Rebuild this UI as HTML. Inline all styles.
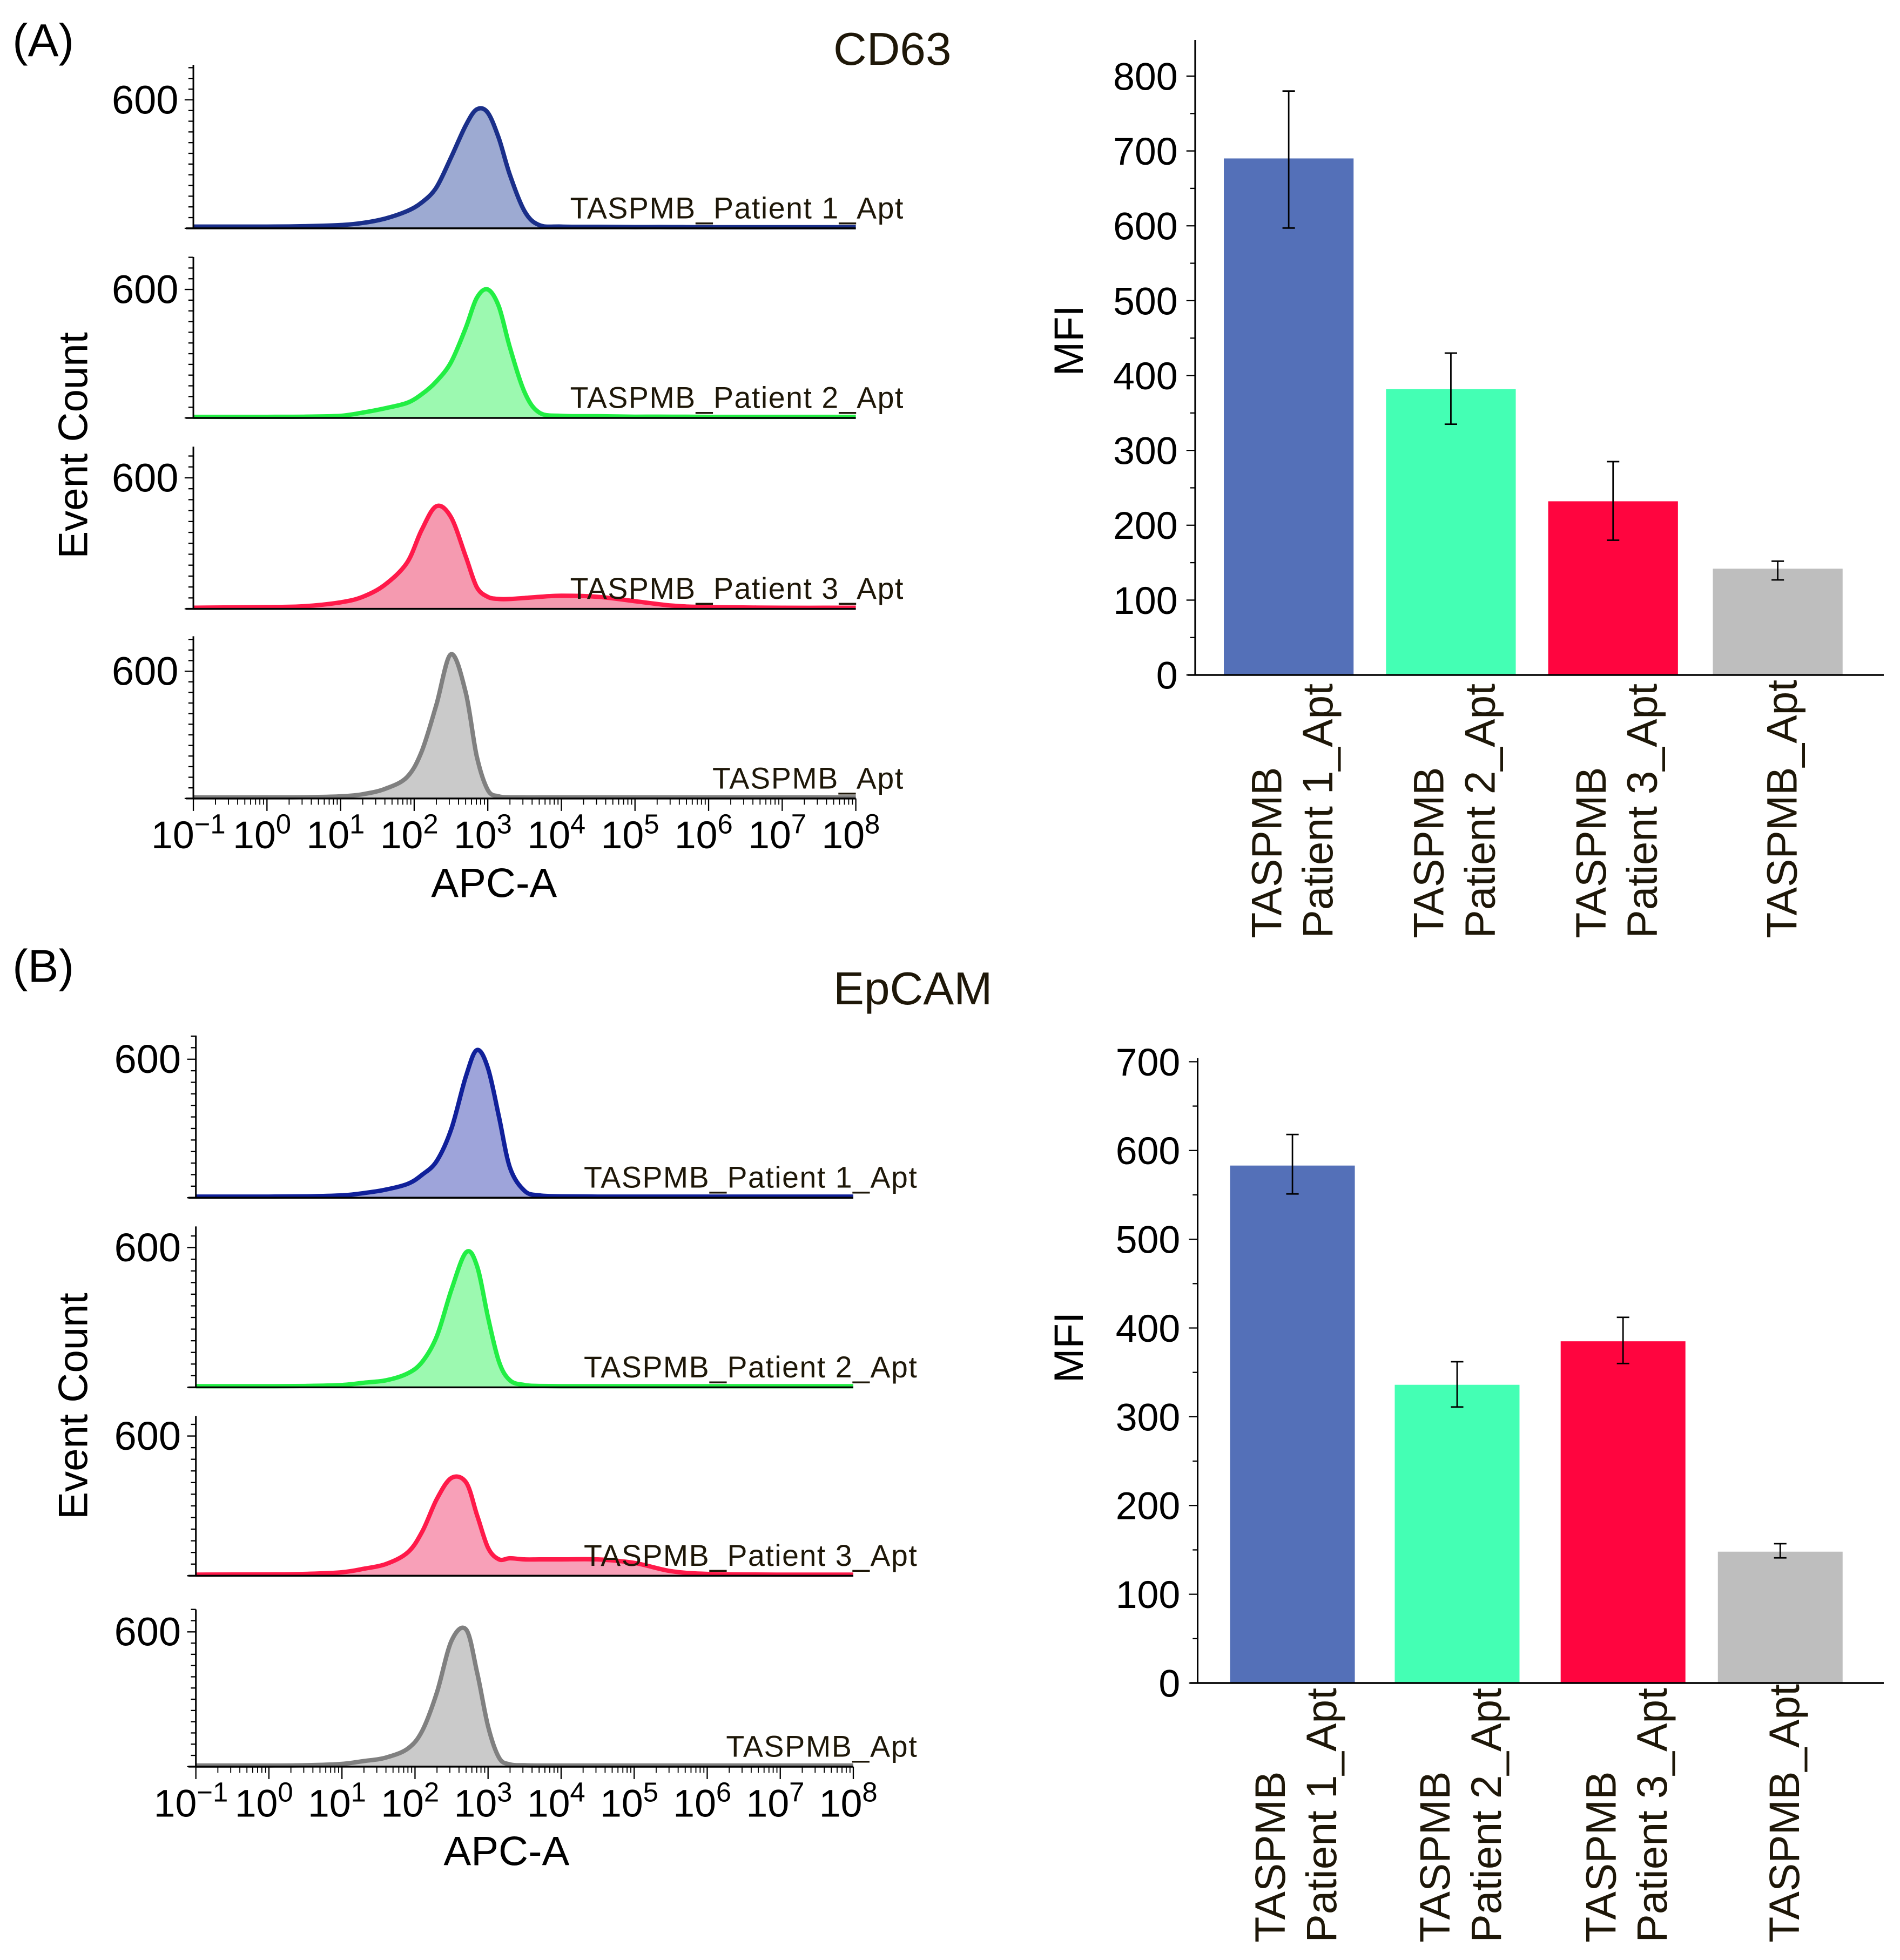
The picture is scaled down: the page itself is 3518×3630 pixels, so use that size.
<!DOCTYPE html>
<html><head><meta charset="utf-8"><style>
html,body{margin:0;padding:0;background:#fff;overflow:hidden;}
svg{display:block;font-family:"Liberation Sans",sans-serif;}
</style></head><body>
<svg id="fig" xmlns="http://www.w3.org/2000/svg" width="3518" height="3630" viewBox="0 0 1523 1571" preserveAspectRatio="none">
<rect width="1523" height="1571" fill="#fff"/>
<g id="root"></g>
</svg>
<script>
// ---- histogram data (x = log10 APC-A, y = event count) ----
const histLogX = [-1,0,0.5,1,1.3,1.6,1.9,2.1,2.3,2.5,2.7,2.85,3.0,3.15,3.3,3.5,3.7,4,4.5,5,5.5,6,7,8];
const cd63P1 = [8,8,10,15,25,45,80,120,190,330,480,555,540,420,250,80,15,8,7,6,6,5,5,5];
const cd63P2 = [5,5,6,10,25,45,70,110,170,260,420,560,600,520,330,120,25,10,8,6,6,5,5,5];
const cd63P3 = [5,8,12,30,55,110,210,360,470,420,240,100,55,45,45,50,55,60,55,35,15,8,5,5];
const cd63Ctl = [5,5,6,10,20,45,100,220,440,680,500,200,40,10,6,5,5,5,5,5,5,5,5,5];
const epP1 = [5,5,6,10,20,35,60,100,160,300,530,640,560,350,130,30,10,6,5,5,5,5,5,5];
const epP2 = [5,5,6,10,20,30,60,110,220,420,580,520,300,110,30,10,6,5,5,5,5,5,5,5];
const epP3 = [5,6,8,15,30,50,100,190,330,420,400,260,120,70,75,70,70,70,70,55,20,8,5,5];
const epCtl = [5,5,6,12,25,40,80,160,330,560,610,420,180,40,10,6,5,5,5,5,5,5,5,5];
const histLabels = ["TASPMB_Patient 1_Apt","TASPMB_Patient 2_Apt","TASPMB_Patient 3_Apt","TASPMB_Apt"];
const decadeExps = [-1,0,1,2,3,4,5,6,7,8];
// ---- bar data ----
const barCats1 = ["TASPMB","TASPMB","TASPMB",""];
const barCats2 = ["Patient 1_Apt","Patient 2_Apt","Patient 3_Apt","TASPMB_Apt"];
const cd63Mfi = [690,382,232,142];
const cd63Hi = [780,430,285,152];
const cd63Lo = [597,335,180,127];
const epMfi = [583,336,385,148];
const epHi = [618,362,412,157];
const epLo = [551,311,360,141];
const cd63Ticks = [0,100,200,300,400,500,600,700,800];
const epTicks = [0,100,200,300,400,500,600,700];

const NS="http://www.w3.org/2000/svg";
const root=document.getElementById('root');
function mk(tag,attrs,parent,name,txt){const e=document.createElementNS(NS,tag);for(const k in attrs)e.setAttribute(k,attrs[k]);


if(txt!==undefined)e.textContent=txt;(parent||root).appendChild(e);return e;}
const TXT="#1e1708";

function smoothPath(pts){
  let d="M"+pts[0][0].toFixed(1)+","+pts[0][1].toFixed(1);
  for(let i=0;i<pts.length-1;i++){
    const p0=pts[Math.max(0,i-1)],p1=pts[i],p2=pts[i+1],p3=pts[Math.min(pts.length-1,i+2)];
    const c1=[p1[0]+(p2[0]-p0[0])/6,p1[1]+(p2[1]-p0[1])/6];
    const c2=[p2[0]-(p3[0]-p1[0])/6,p2[1]-(p3[1]-p1[1])/6];
    d+=` C${c1[0].toFixed(1)},${c1[1].toFixed(1)} ${c2[0].toFixed(1)},${c2[1].toFixed(1)} ${p2[0].toFixed(1)},${p2[1].toFixed(1)}`;
  }
  return d;
}

function histPanel(g,x0,x1,top,base,y600,data,stroke,fill,label,lblX,name){
  const xs=v=>x0+(v+1)/9*(x1-x0);
  const ys=c=>base-c*(base-y600)/600;
  let pts=histLogX.map((v,i)=>[xs(v),ys(data[i])]);
  let d=smoothPath(pts);
  mk('path',{d:d+` L${x1},${base} L${x0},${base} Z`,fill:fill,stroke:'none'},g,name+'-fill');
  mk('path',{d:d,fill:'none',stroke:stroke,'stroke-width':3.5,'stroke-linejoin':'round'},g,name+'-line');
  mk('line',{x1:x0,y1:top,x2:x0,y2:base,stroke:'#000','stroke-width':1.3},g,name+'-y-axis');
  mk('line',{x1:x0-6,y1:base,x2:x1,y2:base,stroke:'#000','stroke-width':1.5},g,name+'-baseline');
  for(let c=0;ys(c)>=top;c+=50){const y=ys(c);mk('line',{x1:x0-(c%600===0?7:4),y1:y,x2:x0,y2:y,stroke:'#000','stroke-width':1},g,name+'-y-tick');}
  mk('text',{x:x0-12,y:y600+11,'font-size':32,'text-anchor':'end',fill:'#000'},g,name+'-y-label','600');
  mk('text',{x:lblX,y:base-8,'font-size':24,'text-anchor':'end',fill:TXT,textLength:label.length>12?267:153},g,name+'-label',label);
}
function histGroup(x0,x1,panels,axisY,prefix,ecY,apcX){
  const g=mk('g',{},root,prefix+'-histograms');
  panels.forEach((p,i)=>histPanel(g,x0,x1,p[0],p[1],p[2],p[3],p[4],p[5],histLabels[i],p[6],prefix+'-hist-'+(i+1)));
  const xs=v=>x0+(v+1)/9*(x1-x0);
  decadeExps.forEach((e,i)=>{
    const x=xs(e);
    mk('line',{x1:x,y1:axisY,x2:x,y2:axisY+10,stroke:'#000','stroke-width':1},g,prefix+'-x-major-tick');
    if(i<decadeExps.length-1){for(let m=2;m<10;m++){const xm=xs(e+Math.log10(m));mk('line',{x1:xm,y1:axisY,x2:xm,y2:axisY+5,stroke:'#000','stroke-width':0.8},g,prefix+'-x-minor-tick');}}
    const t=mk('text',{x:x-4,y:axisY+40,'font-size':31,'text-anchor':'middle',fill:'#000'},g,prefix+'-x-tick-label');
    t.appendChild(document.createTextNode('10'));
    const s=document.createElementNS(NS,'tspan');s.setAttribute('font-size','22');s.setAttribute('dy','-12');
    
    
    s.textContent=e<0?'\u2212'+(-e):String(e);t.appendChild(s);
  });
  mk('text',{x:apcX,y:axisY+79,'font-size':33,'text-anchor':'middle',fill:'#000'},g,prefix+'-x-axis-title','APC-A');
  mk('text',{x:0,y:0,'font-size':33,'text-anchor':'middle',fill:'#000',transform:`translate(70,${ecY}) rotate(-90)`},g,prefix+'-y-axis-title','Event Count');
}
histGroup(155,686,[
 [52,183,80,cd63P1,'#1a2f8a','#9daad2',724],
 [206,335,232,cd63P2,'#22ee44','#9cf9b0',724],
 [358,488,383,cd63P3,'#ff1a4a','#f59ab0',724],
 [510,640,538,cd63Ctl,'#808080','#cacaca',724]],640,'cd63',357,396);
histGroup(157,684,[
 [830,960,849,epP1,'#10209a','#9ea4da',735],
 [983,1112,1000,epP2,'#22ee44','#9cf9b0',735],
 [1135,1263,1151,epP3,'#ff1a4a','#f8a0b8',735],
 [1290,1416,1308,epCtl,'#808080','#cacaca',735]],1416,'epcam',1127,406);

function barChart(ax,zeroY,topVal,topY,axTop,xEnd,ticks,vals,hi,lo,bx,bw,lblY,prefix,mfiY){
  const g=mk('g',{},root,prefix+'-bar-chart');
  const ys=v=>zeroY-v*(zeroY-topY)/topVal;
  const cols=['#5470b8','#44ffb4','#ff053f','#bebebe'];
  vals.forEach((v,i)=>{
    mk('rect',{x:bx[i],y:ys(v),width:bw,height:zeroY-ys(v),fill:cols[i]},g,prefix+'-bar-'+(i+1));
    const cx=bx[i]+bw/2;
    mk('line',{x1:cx,y1:ys(hi[i]),x2:cx,y2:ys(lo[i]),stroke:'#000','stroke-width':1.2},g,prefix+'-error-bar');
    mk('line',{x1:cx-5,y1:ys(hi[i]),x2:cx+5,y2:ys(hi[i]),stroke:'#000','stroke-width':1.2},g,prefix+'-error-cap');
    mk('line',{x1:cx-5,y1:ys(lo[i]),x2:cx+5,y2:ys(lo[i]),stroke:'#000','stroke-width':1.2},g,prefix+'-error-cap');
    if(barCats1[i]){
      mk('text',{x:0,y:0,'font-size':34,'text-anchor':'start',fill:TXT,transform:`translate(${cx-6},${lblY}) rotate(-90)`},g,prefix+'-x-label',barCats1[i]);
      mk('text',{x:0,y:0,'font-size':34,'text-anchor':'start',fill:TXT,transform:`translate(${cx+35},${lblY}) rotate(-90)`},g,prefix+'-x-label',barCats2[i]);
    } else {
      mk('text',{x:0,y:0,'font-size':34,'text-anchor':'start',fill:TXT,transform:`translate(${cx+15},${lblY}) rotate(-90)`},g,prefix+'-x-label',barCats2[i]);
    }
  });
  mk('line',{x1:ax,y1:axTop,x2:ax,y2:zeroY,stroke:'#000','stroke-width':1.3},g,prefix+'-y-axis');
  mk('line',{x1:ax-6,y1:zeroY,x2:xEnd,y2:zeroY,stroke:'#000','stroke-width':1.5},g,prefix+'-x-axis');
  ticks.forEach(t=>{
    mk('line',{x1:ax-7,y1:ys(t),x2:ax,y2:ys(t),stroke:'#000','stroke-width':1},g,prefix+'-y-tick');
    if(t<ticks[ticks.length-1]) mk('line',{x1:ax-4,y1:ys(t+50),x2:ax,y2:ys(t+50),stroke:'#000','stroke-width':1},g,prefix+'-y-minor-tick');
    mk('text',{x:ax-14,y:ys(t)+11,'font-size':31,'text-anchor':'end',fill:'#000'},g,prefix+'-y-tick-label',String(t));
  });
  mk('text',{x:0,y:0,'font-size':33,'text-anchor':'middle',fill:'#000',transform:`translate(868,${mfiY}) rotate(-90)`},g,prefix+'-y-axis-title','MFI');
}
barChart(958,541,800,61,32,1510,cd63Ticks,cd63Mfi,cd63Hi,cd63Lo,[981,1111,1241,1373],104,752,'cd63',273);
barChart(960,1349,700,851,848,1510,epTicks,epMfi,epHi,epLo,[986,1118,1251,1377],100,1557,'epcam',1080);

mk('text',{x:10,y:45,'font-size':37,fill:'#000'},root,'panel-a-label','(A)');
mk('text',{x:668,y:52,'font-size':37,fill:TXT},root,'cd63-title','CD63');
mk('text',{x:10,y:787,'font-size':37,fill:'#000'},root,'panel-b-label','(B)');
mk('text',{x:668,y:805,'font-size':37,fill:TXT},root,'epcam-title','EpCAM');
</script>
</body></html>
